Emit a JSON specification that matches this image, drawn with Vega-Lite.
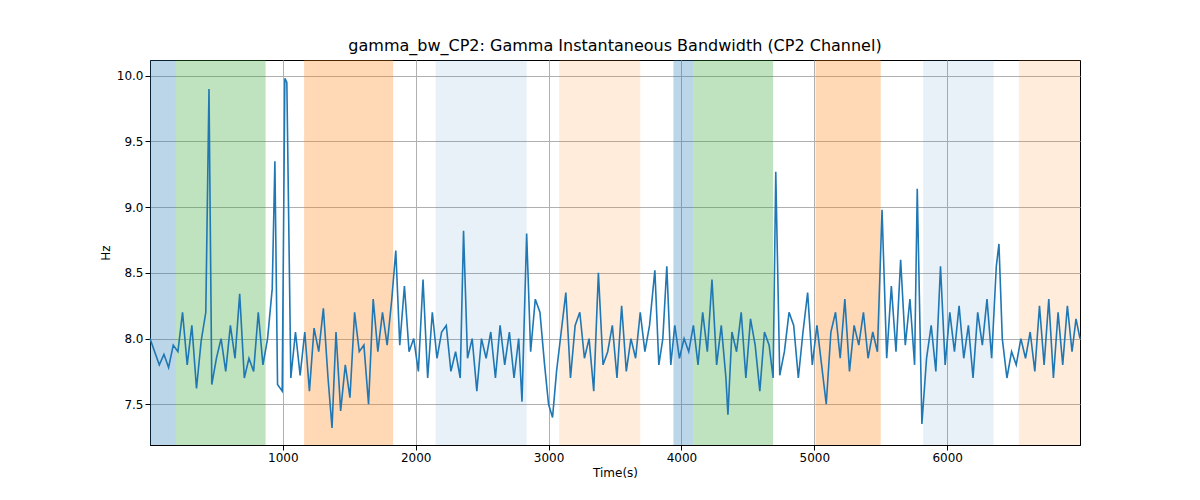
{
"$schema":"https://vega.github.io/schema/vega-lite/v6.json",
"autosize":"none",
"padding":{"left":150,"top":60,"right":120,"bottom":55},
"width":930,"height":385,
"title":{"text":"gamma_bw_CP2: Gamma Instantaneous Bandwidth (CP2 Channel)","fontSize":16,"font":"DejaVu Sans","fontWeight":"normal","offset":6},
"config":{"view":{"stroke":"black"},"axis":{"labelFont":"DejaVu Sans","titleFont":"DejaVu Sans","labelFontSize":12,"titleFontSize":12,"titleFontWeight":"normal","labelColor":"black","titleColor":"black","domainColor":"black","tickColor":"black","gridColor":"#b0b0b0"}},
"datasets":{
"bands":[
{"s":0,"e":195,"k":"a"},{"s":195,"e":870,"k":"b"},{"s":1160,"e":1830,"k":"c"},{"s":2150,"e":2835,"k":"d"},{"s":3080,"e":3690,"k":"e"},
{"s":3940,"e":4090,"k":"a"},{"s":4090,"e":4690,"k":"b"},{"s":5010,"e":5500,"k":"c"},{"s":5820,"e":6350,"k":"d"},{"s":6540,"e":7000,"k":"e"}],
"sig":[
{"t":0,"v":8.0},{"t":35,"v":7.9},{"t":70,"v":7.8},{"t":105,"v":7.88},{"t":140,"v":7.78},{"t":175,"v":7.95},{"t":210,"v":7.9},{"t":245,"v":8.2},{"t":280,"v":7.8},{"t":315,"v":8.1},{"t":350,"v":7.62},{"t":385,"v":7.98},{"t":420,"v":8.2},{"t":444,"v":9.9},{"t":465,"v":7.65},{"t":500,"v":7.85},{"t":535,"v":8.0},{"t":570,"v":7.75},{"t":605,"v":8.1},{"t":640,"v":7.85},{"t":675,"v":8.34},{"t":710,"v":7.7},{"t":745,"v":7.85},{"t":780,"v":7.75},{"t":815,"v":8.2},{"t":850,"v":7.8},{"t":885,"v":8.0},{"t":920,"v":8.38},{"t":940,"v":9.35},{"t":960,"v":7.65},{"t":995,"v":7.6},{"t":1015,"v":9.98},{"t":1030,"v":9.95},{"t":1060,"v":7.7},{"t":1095,"v":8.05},{"t":1130,"v":7.72},{"t":1165,"v":8.05},{"t":1200,"v":7.6},{"t":1235,"v":8.08},{"t":1270,"v":7.9},{"t":1305,"v":8.23},{"t":1340,"v":7.7},{"t":1370,"v":7.32},{"t":1400,"v":8.05},{"t":1435,"v":7.45},{"t":1470,"v":7.8},{"t":1505,"v":7.55},{"t":1540,"v":8.2},{"t":1575,"v":7.9},{"t":1610,"v":7.95},{"t":1645,"v":7.5},{"t":1680,"v":8.3},{"t":1715,"v":7.9},{"t":1750,"v":8.2},{"t":1785,"v":7.95},{"t":1820,"v":8.3},{"t":1850,"v":8.67},{"t":1880,"v":7.95},{"t":1915,"v":8.4},{"t":1950,"v":7.9},{"t":1985,"v":8.0},{"t":2020,"v":7.75},{"t":2055,"v":8.45},{"t":2090,"v":7.7},{"t":2125,"v":8.2},{"t":2160,"v":7.85},{"t":2195,"v":8.05},{"t":2230,"v":8.1},{"t":2265,"v":7.75},{"t":2300,"v":7.9},{"t":2335,"v":7.7},{"t":2360,"v":8.82},{"t":2390,"v":7.85},{"t":2425,"v":8.0},{"t":2460,"v":7.6},{"t":2495,"v":8.0},{"t":2530,"v":7.85},{"t":2565,"v":8.05},{"t":2600,"v":7.7},{"t":2635,"v":8.1},{"t":2670,"v":7.8},{"t":2705,"v":8.05},{"t":2740,"v":7.7},{"t":2775,"v":8.0},{"t":2800,"v":7.52},{"t":2835,"v":8.8},{"t":2865,"v":7.9},{"t":2900,"v":8.3},{"t":2935,"v":8.2},{"t":2970,"v":7.8},{"t":3000,"v":7.5},{"t":3030,"v":7.4},{"t":3060,"v":7.75},{"t":3095,"v":8.05},{"t":3130,"v":8.35},{"t":3165,"v":7.7},{"t":3200,"v":8.1},{"t":3235,"v":8.2},{"t":3270,"v":7.85},{"t":3305,"v":8.0},{"t":3340,"v":7.6},{"t":3375,"v":8.5},{"t":3410,"v":7.8},{"t":3445,"v":7.9},{"t":3480,"v":8.1},{"t":3515,"v":7.7},{"t":3550,"v":8.25},{"t":3585,"v":7.75},{"t":3620,"v":8.0},{"t":3655,"v":7.85},{"t":3690,"v":8.2},{"t":3725,"v":7.9},{"t":3760,"v":8.1},{"t":3800,"v":8.52},{"t":3830,"v":7.8},{"t":3860,"v":8.0},{"t":3890,"v":8.55},{"t":3920,"v":7.8},{"t":3950,"v":8.1},{"t":3985,"v":7.85},{"t":4020,"v":8.0},{"t":4055,"v":7.9},{"t":4090,"v":8.1},{"t":4125,"v":7.8},{"t":4160,"v":8.2},{"t":4195,"v":7.9},{"t":4230,"v":8.45},{"t":4265,"v":7.8},{"t":4300,"v":8.1},{"t":4335,"v":7.7},{"t":4350,"v":7.42},{"t":4380,"v":8.05},{"t":4415,"v":7.9},{"t":4450,"v":8.2},{"t":4485,"v":7.7},{"t":4520,"v":8.15},{"t":4555,"v":7.95},{"t":4590,"v":7.6},{"t":4625,"v":8.05},{"t":4660,"v":7.95},{"t":4690,"v":7.7},{"t":4710,"v":9.27},{"t":4740,"v":7.72},{"t":4775,"v":7.9},{"t":4810,"v":8.2},{"t":4845,"v":8.1},{"t":4880,"v":7.7},{"t":4915,"v":8.05},{"t":4950,"v":8.35},{"t":4985,"v":7.8},{"t":5020,"v":8.1},{"t":5055,"v":7.8},{"t":5090,"v":7.5},{"t":5125,"v":8.05},{"t":5160,"v":8.2},{"t":5195,"v":7.85},{"t":5230,"v":8.3},{"t":5265,"v":7.75},{"t":5300,"v":8.1},{"t":5335,"v":7.95},{"t":5370,"v":8.2},{"t":5405,"v":7.85},{"t":5440,"v":8.05},{"t":5475,"v":7.9},{"t":5510,"v":8.98},{"t":5545,"v":7.85},{"t":5580,"v":8.4},{"t":5615,"v":7.9},{"t":5650,"v":8.6},{"t":5685,"v":7.95},{"t":5720,"v":8.3},{"t":5755,"v":7.8},{"t":5775,"v":9.14},{"t":5810,"v":7.35},{"t":5845,"v":7.85},{"t":5880,"v":8.1},{"t":5915,"v":7.75},{"t":5950,"v":8.55},{"t":5985,"v":7.8},{"t":6020,"v":8.2},{"t":6055,"v":7.9},{"t":6090,"v":8.25},{"t":6125,"v":7.85},{"t":6160,"v":8.1},{"t":6195,"v":7.7},{"t":6230,"v":8.2},{"t":6265,"v":7.95},{"t":6300,"v":8.3},{"t":6335,"v":7.85},{"t":6370,"v":8.55},{"t":6390,"v":8.72},{"t":6415,"v":8.0},{"t":6450,"v":7.7},{"t":6485,"v":7.9},{"t":6520,"v":7.8},{"t":6555,"v":8.0},{"t":6590,"v":7.85},{"t":6625,"v":8.05},{"t":6660,"v":7.75},{"t":6695,"v":8.25},{"t":6730,"v":7.8},{"t":6765,"v":8.3},{"t":6800,"v":7.7},{"t":6835,"v":8.2},{"t":6870,"v":7.8},{"t":6905,"v":8.25},{"t":6940,"v":7.9},{"t":6970,"v":8.15},{"t":7000,"v":8.0}]
},
"layer":[
{"data":{"name":"bands"},"mark":{"type":"rect","opacity":1},
 "encoding":{
  "x":{"field":"s","type":"quantitative","scale":{"domain":[0,7000],"nice":false,"zero":false},"axis":{"title":"Time(s)","values":[1000,2000,3000,4000,5000,6000],"format":"d","grid":true,"labelFlush":false}},
  "x2":{"field":"e"},
  "color":{"field":"k","type":"nominal","scale":{"domain":["a","b","c","d","e"],"range":["rgba(31,119,180,0.3)","rgba(44,160,44,0.3)","rgba(255,127,14,0.3)","rgba(31,119,180,0.1)","rgba(255,127,14,0.15)"]},"legend":null}}},
{"data":{"name":"sig"},"mark":{"type":"line","color":"#1f77b4","strokeWidth":1.6},
 "encoding":{
  "x":{"field":"t","type":"quantitative"},
  "y":{"field":"v","type":"quantitative","scale":{"domain":[7.19,10.12],"nice":false,"zero":false},"axis":{"title":"Hz","values":[7.5,8.0,8.5,9.0,9.5,10.0],"format":".1f","grid":true}}}}
]
}
